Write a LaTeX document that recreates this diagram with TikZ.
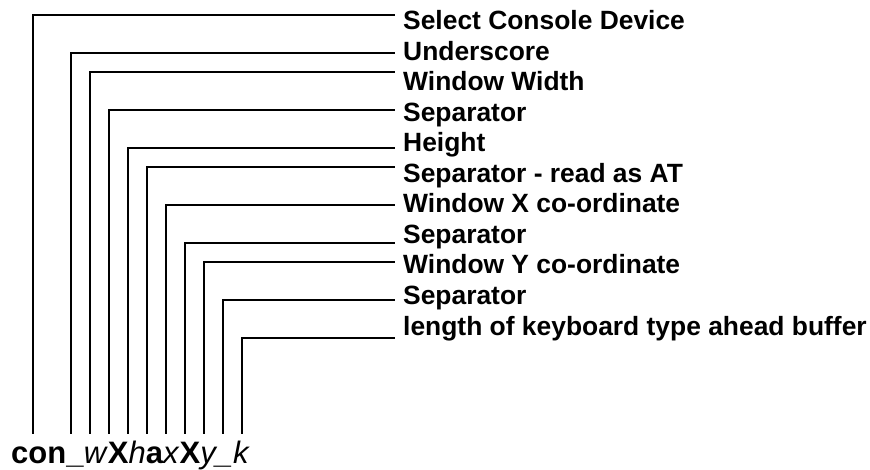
\documentclass[tikz,border=0pt]{standalone}
\usepackage{fontspec}
\setmainfont{Liberation Sans}
\begin{document}
\begin{tikzpicture}[x=1pt,y=-1pt,
  lbl/.style={anchor=base west,inner sep=0pt,font=\fontsize{26.4}{30}\selectfont\bfseries},
  conn/.style={draw=black,line width=1.3pt,line cap=rect}]
\useasboundingbox (0,0) rectangle (870,470);
% labels
\foreach \i/\t in {0/Select Console Device,1/Underscore,2/Window Width,3/Separator,4/Height,5/Separator - read as AT,6/Window X co-ordinate,7/Separator,8/Window Y co-ordinate,9/Separator,10/length of keyboard type ahead buffer}{
  \node[lbl] (l\i) at (403,{30+30.5*\i}) {\t};
}
% device name
\node[anchor=base west,inner sep=0pt,font=\fontsize{31}{36}\selectfont] (dev) at (11,463)
  {\textbf{con\_}\textit{w}\textbf{X}\textit{h}\textbf{a}\textit{x}\textbf{X}\textit{y\_k}};
% connectors
\foreach \i/\x/\y in {0/33/15,1/71/53,2/90/72,3/109/110,4/128/148,5/147/167,6/166/205,7/185/243,8/204/262,9/223/300,10/242/338}{
  \coordinate (b\i) at (\x,433);
  \coordinate (e\i) at (394,\y);
  \draw[conn] (b\i) |- (e\i);
}
\end{tikzpicture}
\end{document}
